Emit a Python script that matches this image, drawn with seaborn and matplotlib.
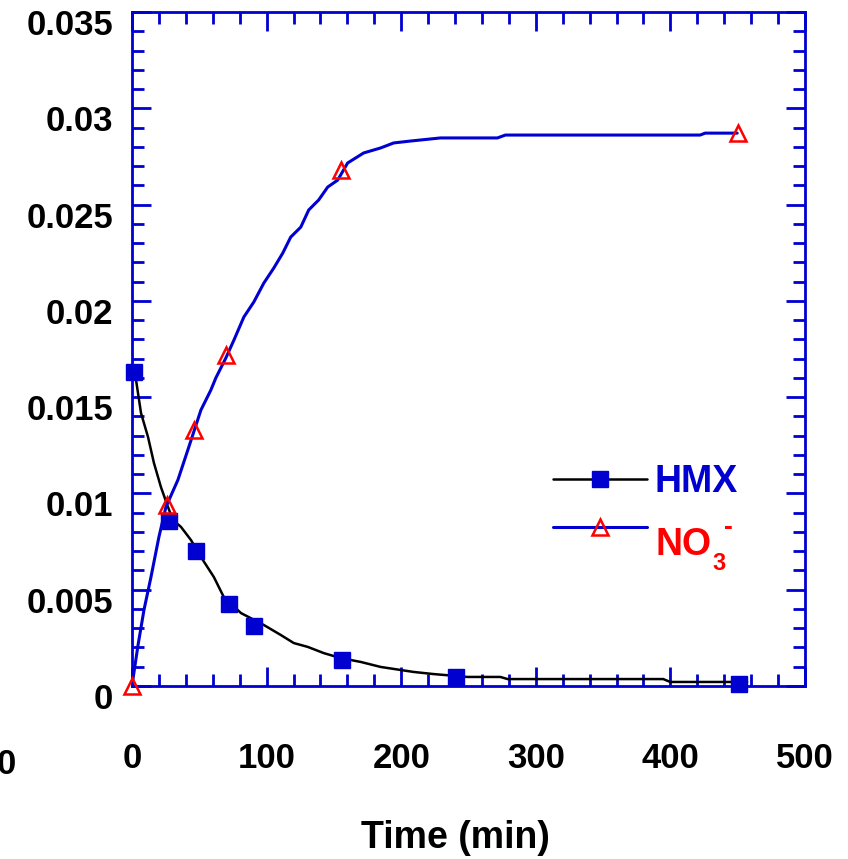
import matplotlib
matplotlib.use("Agg")
import matplotlib.pyplot as plt
import seaborn as sns
import pandas as pd
from matplotlib.lines import Line2D
from matplotlib.transforms import ScaledTranslation
from matplotlib.ticker import MultipleLocator

# ---- data ----
hmx_t = [1.5, 27.4, 47.5, 72, 91, 156, 241, 451]
hmx_c = [0.0163, 0.00857, 0.0070, 0.00426, 0.00312, 0.00135, 0.00047, 0.0001]
no3_t = [0, 26, 46, 70, 155, 450]
no3_c = [0.0, 0.0094, 0.0133, 0.0172, 0.0268, 0.0287]

hmx_fit_t = [1.5, 3.0, 6.7, 11.9, 16.3, 21.5, 26.7, 30.4, 36.4, 43.8, 51.2, 60.8, 68.2,
             80.9, 97.9, 110.5, 120.2, 130.6, 142.4, 155.0, 169.9, 184.7, 209.2, 224.0,
             249.3, 273.7, 279.0, 394.7, 399.9, 457.0]
hmx_fit_c = [0.01631, 0.01589, 0.01417, 0.01293, 0.01158, 0.01033, 0.00930, 0.00862,
             0.00826, 0.00758, 0.00670, 0.00566, 0.00462, 0.00379, 0.00317, 0.00265,
             0.00223, 0.00203, 0.00171, 0.00145, 0.00125, 0.00099, 0.00073, 0.00062,
             0.00047, 0.00047, 0.00036, 0.00036, 0.00021, 0.00021]
no3_fit_t = [0.0, 1.5, 4.5, 8.9, 14.1, 20.0, 25.2, 34.1, 41.5, 51.2, 58.6, 62.3, 69.7,
             75.7, 83.1, 90.5, 97.9, 105.3, 112.0, 117.9, 125.4, 131.3, 138.7, 145.4,
             152.8, 160.2, 172.1, 184.7, 194.4, 207.0, 229.2, 271.5, 277.4, 422.1,
             425.8, 449.6]
no3_fit_c = [0.0, 0.00073, 0.00213, 0.00395, 0.00566, 0.00774, 0.00930, 0.01070,
             0.01226, 0.01433, 0.01537, 0.01600, 0.01703, 0.01796, 0.01916, 0.01994,
             0.02092, 0.02170, 0.02248, 0.02331, 0.02383, 0.02472, 0.02524, 0.02591,
             0.02627, 0.02716, 0.02768, 0.02794, 0.02820, 0.02830, 0.02846, 0.02846,
             0.02861, 0.02861, 0.02871, 0.02871]

x_ticks = [0, 100, 200, 300, 400, 500]
y_ticks = [0, 0.005, 0.01, 0.015, 0.02, 0.025, 0.03, 0.035]
y_tick_labels = ['0', '0.005', '0.01', '0.015', '0.02', '0.025', '0.03', '0.035']
x_label = 'Time (min)'
series_names = ['HMX', 'NO']
no3_main, no3_sub, no3_sup = 'NO', '3', '-'

# ---- style ----
sns.set_style("white")
plt.rcParams['font.family'] = ['Liberation Sans', 'DejaVu Sans']
plt.rcParams['font.weight'] = 'bold'
plt.rcParams['text.color'] = 'black'
plt.rcParams['xtick.labelcolor'] = 'black'
plt.rcParams['ytick.labelcolor'] = 'black'

BLUE = '#0000d0'
RED = '#ff0000'
TICKFS = 25

fig = plt.figure(figsize=(8.48, 8.59), dpi=100)
ax = fig.add_axes([132/848, 1 - 686/859, (805-132)/848, (686-12)/859])

hmx_fit = pd.DataFrame({'t': hmx_fit_t, 'c': hmx_fit_c})
no3_fit = pd.DataFrame({'t': no3_fit_t, 'c': no3_fit_c})
hmx = pd.DataFrame({'t': hmx_t, 'c': hmx_c})
no3 = pd.DataFrame({'t': no3_t, 'c': no3_c})

sns.lineplot(data=hmx_fit, x='t', y='c', ax=ax, color='black', lw=1.8, sort=False,
             estimator=None)
sns.lineplot(data=no3_fit, x='t', y='c', ax=ax, color=BLUE, lw=2.2, sort=False,
             estimator=None)
ax.plot(hmx['t'], hmx['c'], ls='none', marker='s', ms=11.5, mfc=BLUE, mec=BLUE,
        clip_on=False, zorder=5)
ax.plot(no3['t'], no3['c'], ls='none', marker='^', ms=11, mfc='none', mec=RED,
        mew=1.8, clip_on=False, zorder=6)

ax.set_xlim(0, 500)
ax.set_ylim(0, 0.035)
ax.set_xticks(x_ticks)
ax.set_xticklabels([str(v) for v in x_ticks])
ax.set_yticks(y_ticks)
ax.set_yticklabels(y_tick_labels)
ax.xaxis.set_minor_locator(MultipleLocator(20))
ax.yaxis.set_minor_locator(MultipleLocator(0.001))

for s in ax.spines.values():
    s.set_color(BLUE)
    s.set_linewidth(2)

ax.tick_params(which='both', direction='in', top=True, right=True, bottom=True,
               left=True, color=BLUE, width=2)
ax.tick_params(which='major', length=14)
ax.tick_params(which='minor', length=8.5)
ax.tick_params(axis='x', which='major', pad=40, labelsize=TICKFS, labelcolor='black')
ax.tick_params(axis='y', which='major', pad=13.5, labelsize=TICKFS, labelcolor='black')

for lab in ax.get_yticklabels():
    lab.set_transform(lab.get_transform() + ScaledTranslation(0, -0.10, fig.dpi_scale_trans))
    lab.set_fontweight('bold')
for lab in ax.get_xticklabels():
    lab.set_fontweight('bold')

ax.set_xlabel('')
ax.set_ylabel('')
fig.text(455/848, 1 - 838/859, x_label, ha='center', va='center', fontsize=27,
         fontweight='bold', color='black')
fig.text(16/848, 1 - 765/859, '0', ha='right', va='center', fontsize=TICKFS,
         fontweight='bold', color='black')

handles = [
    Line2D([], [], color='black', lw=1.8, marker='s', ms=11.5, mfc=BLUE, mec=BLUE),
    Line2D([], [], color=BLUE, lw=2.2, marker='^', ms=11, mfc='none', mec=RED, mew=1.8),
]
leg = ax.legend(handles, series_names, loc='upper left',
                bbox_to_anchor=((553-132)/673, (686-464)/674), frameon=False,
                fontsize=27, handlelength=2.5, handletextpad=0.2, labelspacing=0.33,
                borderpad=0, borderaxespad=0)
leg_texts = leg.get_texts()
leg_texts[0].set_color(BLUE)
leg_texts[0].set_fontweight('bold')
leg_texts[1].set_visible(False)   # drawn below with sub/superscript layout

# NO3- label drawn as separate pieces (text sits below its legend line, as in the source)
ax.text((656-132)/673, (686-555)/674, no3_main, transform=ax.transAxes, ha='left',
        va='baseline', fontsize=27, fontweight='bold', color=RED)
ax.text((712-132)/673, (686-570)/674, no3_sub, transform=ax.transAxes, ha='left',
        va='baseline', fontsize=17, fontweight='bold', color=RED)
ax.text((724-132)/673, (686-527)/674, no3_sup, transform=ax.transAxes, ha='left',
        va='center', fontsize=19, fontweight='bold', color=RED)

fig.savefig('out.png', dpi=100)
